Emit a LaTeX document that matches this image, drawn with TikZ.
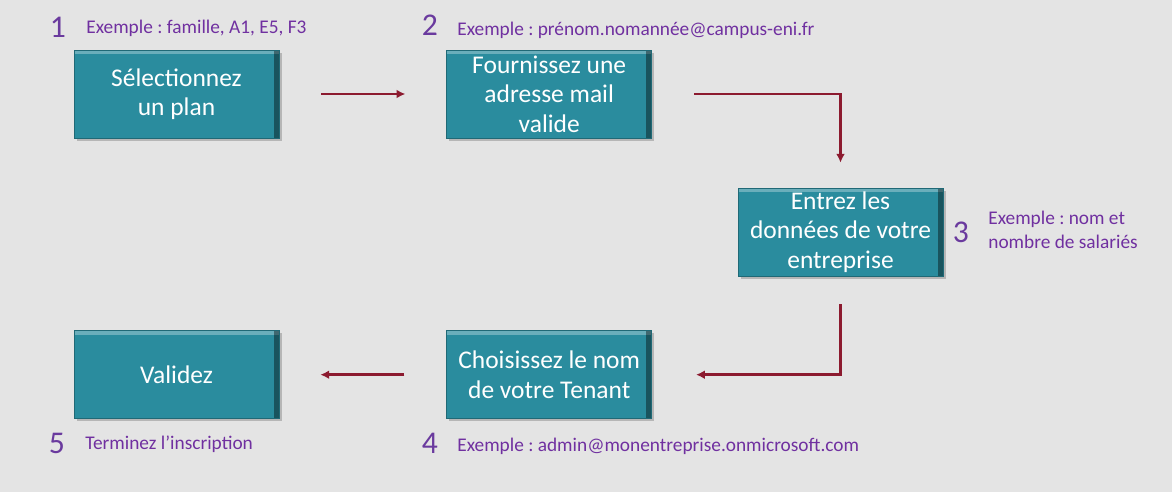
\documentclass[tikz,border=0pt]{standalone}
\usepackage{fontspec}
\setmainfont{Carlito}
\usepackage{tikz}
\usetikzlibrary{arrows.meta,positioning,shadows}
\usepackage{xcolor}
\definecolor{bgGray}{HTML}{E4E4E4}
\definecolor{boxTeal}{HTML}{2A8C9E}
\definecolor{arrRed}{HTML}{8C1A2F}
\definecolor{numPurple}{HTML}{6A3A9E}
\definecolor{labPurple}{HTML}{7030A0}
\frenchspacing

\begin{document}
\begin{tikzpicture}[node distance=3.84cm and 3.34cm,>=Latex, every node/.style={font=\fontsize{14.5}{16.8}\selectfont}]
\tikzstyle{box}=[draw=boxTeal!75!black,fill=boxTeal,text=white,align=center,minimum width=4.1cm,minimum height=1.76cm,inner sep=2pt,drop shadow={opacity=0.45,shadow xshift=1.5pt,shadow yshift=-1.5pt},
  path picture={\fill[white,opacity=0.3] (path picture bounding box.north west) rectangle ([yshift=-2.5pt]path picture bounding box.north east);
    \fill[black,opacity=0.4] ([xshift=-3pt]path picture bounding box.south east) rectangle (path picture bounding box.north east);}]
\tikzstyle{num}=[text=numPurple,font=\fontsize{18}{20}\selectfont,inner sep=0pt]
\tikzstyle{lab}=[text=labPurple,font=\fontsize{11}{13.5}\selectfont,anchor=west,align=left,inner sep=0pt]
\tikzstyle{arr}=[->,draw=arrRed,line width=1.4pt,arrows={-Latex[length=5pt,width=5pt]}]
\fill[bgGray] (0,0) rectangle (23.44,9.84);
\useasboundingbox (0,0) rectangle (23.44,9.84);
\node[box] (plan) at (3.53,7.96) {Sélectionnez\\un plan};
\node[box,right=of plan] (mail) {Fournissez une\\adresse mail\\valide};
\node[box] (entr) at (16.81,5.20) {Entrez les\\données de votre\\entreprise};
\node[box,below=of plan] (valid) {Validez};
\node[box,right=of valid] (tenant) {Choisissez le nom\\de votre Tenant};
% numeros et exemples
\node[num] (n1) at (1.16,9.30) {1};
\node[lab] (l1) at (1.72,9.28) {Exemple : famille, A1, E5, F3};
\node[num] (n2) at (8.60,9.34) {2};
\node[lab] (l2) at (9.14,9.24) {Exemple : prénom.nomannée@campus-eni.fr};
\node[num] (n3) at (19.22,5.20) {3};
\node[lab] (l3) at (19.76,5.24) {Exemple : nom et\\nombre de salariés};
\node[num] (n4) at (8.60,0.98) {4};
\node[lab] (l4) at (9.14,0.92) {Exemple : admin@monentreprise.onmicrosoft.com};
\node[num] (n5) at (1.14,0.98) {5};
\node[lab] (l5) at (1.70,0.96) {Terminez l’inscription};
% fleches
\draw[arr,shorten <=0.84cm,shorten >=0.82cm] (plan) -- (mail);
\draw[arr,shorten <=0.84cm,shorten >=0.5cm] (mail.east) -| (entr.north);
\draw[arr,shorten <=0.56cm,shorten >=0.88cm] (entr.south) |- (tenant.east);
\draw[arr,shorten <=0.84cm,shorten >=0.82cm] (tenant) -- (valid);
\end{tikzpicture}
\end{document}
